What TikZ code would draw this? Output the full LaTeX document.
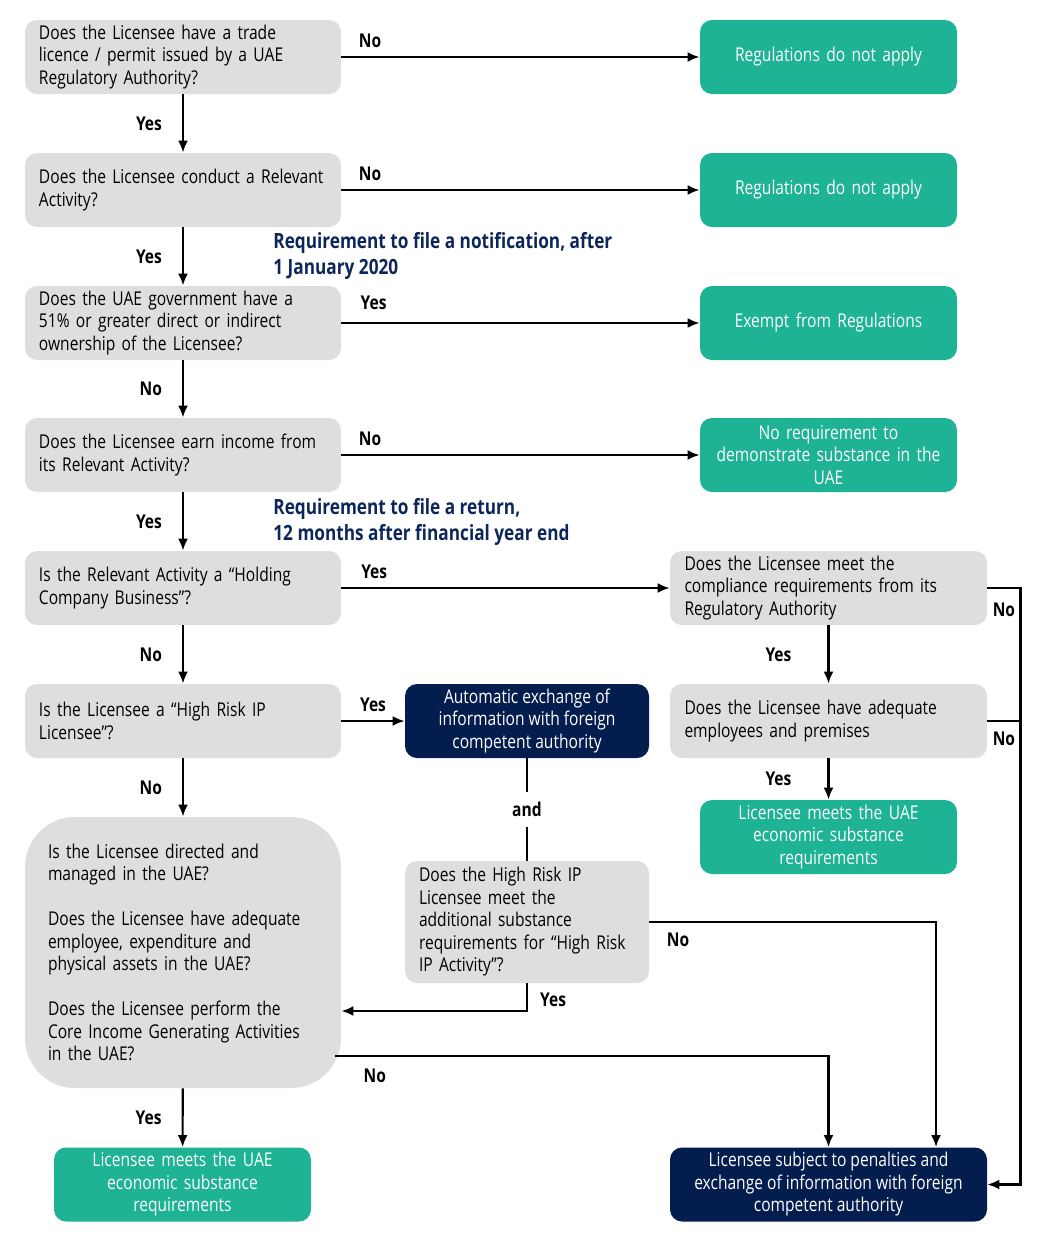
\documentclass[tikz,border=0pt]{standalone}
\usepackage{fontspec}
\setmainfont{Open Sans}[FakeStretch=0.82]
\usetikzlibrary{arrows.meta}
\definecolor{boxgrey}{HTML}{DEDEDE}
\definecolor{esgreen}{HTML}{1DB394}
\definecolor{esnavy}{HTML}{031D4E}
\definecolor{notenavy}{HTML}{0C2659}

\begin{document}
\begin{tikzpicture}[x=0.5pt, y=-0.5pt,
  line/.style={>={Latex[length=6pt,width=5pt]}, line width=1.1pt},
  every node/.style={font=\fontsize{9.5}{11.25}\selectfont, inner sep=0pt},
  question/.style={fill=boxgrey, rounded corners=6pt, minimum width=158pt, minimum height=37pt, text width=144pt, align=left},
  result/.style={fill=esgreen, text=white, rounded corners=6pt, minimum width=128.5pt, minimum height=37pt, text width=122pt, align=center},
  penalty/.style={fill=esnavy, text=white, rounded corners=6pt, minimum height=37pt, align=center},
  answer/.style={font=\fontsize{9.5}{11}\selectfont\bfseries, inner sep=2pt},
  note/.style={font=\fontsize{10.5}{13}\selectfont\bfseries, text=notenavy, align=left, anchor=west}]
\useasboundingbox (0,0) rectangle (1052,1254);

% left column
\node[question] (q1) at (183, 57) {Does the Licensee have a trade\\ licence / permit issued by a UAE\\ Regulatory Authority?};
\node[question] (q2) at (183, 190) {Does the Licensee conduct a Relevant\\ Activity?};
\node[question] (q3) at (183, 323) {Does the UAE government have a\\ 51\% or greater direct or indirect\\ ownership of the Licensee?};
\node[question] (q4) at (183, 455) {Does the Licensee earn income from\\ its Relevant Activity?};
\node[question] (q5) at (183, 588) {Is the Relevant Activity a “Holding\\ Company Business”?};
\node[question] (q6) at (183, 721) {Is the Licensee a “High Risk IP\\ Licensee”?};
\node[question, rounded corners=25pt, minimum height=135.5pt, text width=135pt] (q7) at (183, 952.5)
  {Is the Licensee directed and\\ managed in the UAE?\\[11.25pt] Does the Licensee have adequate\\ employee, expenditure and\\ physical assets in the UAE?\\[11.25pt] Does the Licensee perform the\\ Core Income Generating Activities\\ in the UAE?};
\node[result] (lmeet) at (182.5, 1184.5) {Licensee meets the UAE\\ economic substance\\ requirements};

% right column
\node[result] (r1) at (828.5, 57) {Regulations do not apply};
\node[result] (r2) at (828.5, 190) {Regulations do not apply};
\node[result] (r3) at (828.5, 323) {Exempt from Regulations};
\node[result] (r4) at (828.5, 455) {No requirement to\\ demonstrate substance in the\\ UAE};
\node[question, minimum width=158.5pt] (hq1) at (828.5, 588) {Does the Licensee meet the\\ compliance requirements from its\\ Regulatory Authority};
\node[question, minimum width=158.5pt] (hq2) at (828.5, 721) {Does the Licensee have adequate\\ employees and premises};
\node[result] (hmeet) at (828.5, 837) {Licensee meets the UAE\\ economic substance\\ requirements};
\node[penalty, minimum width=158.5pt] (penal) at (828.5, 1184.5) {Licensee subject to penalties and\\ exchange of information with foreign\\ competent authority};

% middle column
\node[penalty, minimum width=122pt] (auto) at (527, 721) {Automatic exchange of\\ information with foreign\\ competent authority};
\node[question, minimum width=122pt, minimum height=61pt, text width=108pt] (hrip) at (527, 922) {Does the High Risk IP\\ Licensee meet the\\ additional substance\\ requirements for “High Risk\\ IP Activity”?};

\node[note] (note1) at (273, 256) {Requirement to file a notification, after\\ 1 January 2020};
\node[note] (note2) at (273, 522) {Requirement to file a return,\\ 12 months after financial year end};

% vertical flow
\draw[->, line] (q1) -- node[answer, left=8pt] {Yes} (q2);
\draw[->, line] (q2) -- node[answer, left=8pt] {Yes} (q3);
\draw[->, line] (q3) -- node[answer, left=8pt] {No} (q4);
\draw[->, line] (q4) -- node[answer, left=8pt] {Yes} (q5);
\draw[->, line] (q5) -- node[answer, left=8pt] {No} (q6);
\draw[->, line] (q6) -- node[answer, left=8pt] {No} (q7);
\draw[->, line] (q7) -- node[answer, left=8pt] {Yes} (lmeet);
\draw[->, line] (hq1) -- node[answer, left=16pt] {Yes} (hq2);
\draw[->, line] (hq2) -- node[answer, left=16pt] {Yes} (hmeet);

% horizontal flow
\draw[->, line] (q1) -- node[answer, pos=0.08, above=2pt] {No} (r1);
\draw[->, line] (q2) -- node[answer, pos=0.08, above=2pt] {No} (r2);
\draw[->, line] (q3) -- node[answer, pos=0.09, above=4pt] {Yes} (r3);
\draw[->, line] (q4) -- node[answer, pos=0.08, above=2pt] {No} (r4);
\draw[->, line] (q5) -- node[answer, pos=0.1, above=2pt] {Yes} (hq1);
\draw[->, line] (q6) -- node[answer, above=2pt] {Yes} (auto);
\draw[line] (auto) -- node[answer, fill=white, inner ysep=5pt] {and} (hrip);

% to penalties
\draw[->, line] (hq1.east) -- node[answer, below=5pt] {No} ++(33, 0) |- (penal.east);
\draw[line] (hq2.east) -- node[answer, below=3pt] {No} ++(33, 0);
\draw[->, line] (hrip.east) -| node[answer, pos=0.05, below=3pt] {No} ([xshift=53.75pt]penal.north);
\draw[->, line] ([xshift=-3pt, yshift=-51.75pt]q7.east) -| node[answer, pos=0.04, below=4pt] {No} (penal.north);
\draw[->, line] (hrip.south) |- node[answer, pos=0.3, right=4pt] {Yes} ([yshift=-29.25pt]q7.east);
\end{tikzpicture}
\end{document}
